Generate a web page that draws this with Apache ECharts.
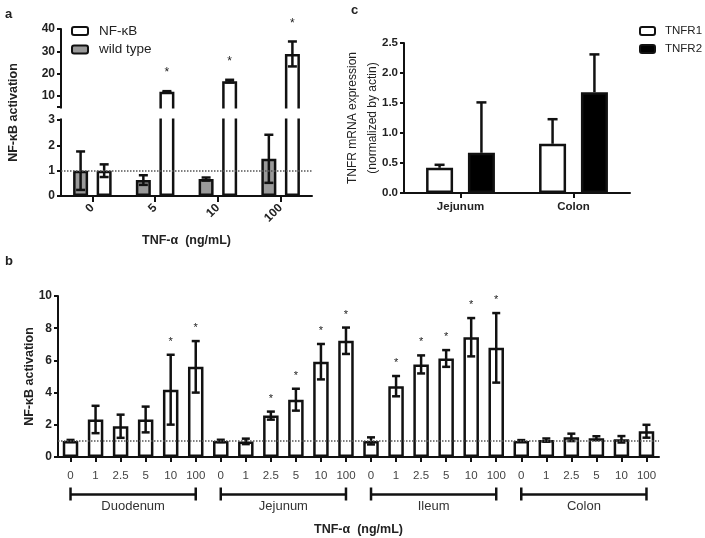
<!DOCTYPE html>
<html><head><meta charset="utf-8">
<script src="https://cdn.jsdelivr.net/npm/echarts@6/dist/echarts.min.js"></script>
<style>html,body{margin:0;padding:0;background:#fff}#c{width:705px;height:538px}</style>
</head><body><div id="c"></div>
<script>
// ---------- Panel a ----------
const aDoses = ['0', '5', '10', '100'];
const aNFkB = [1.0, 11.8, 16.6, 28.8];
const aNFkBErr = [0.25, 0.3, 0.6, 5.6];
const aWildType = [1.0, 0.63, 0.67, 1.47];
const aWildTypeErr = [0.76, 0.19, 0.06, 0.95];
const aStars = [false, true, true, true];
const aTopTicks = [5, 10, 20, 30, 40];
const aTopLabels = [10, 20, 30, 40];
const aBottomTicks = [0, 1, 2, 3];
// ---------- Panel b ----------
const bDoses = ['0', '1', '2.5', '5', '10', '100'];
const bTissues = ['Duodenum', 'Jejunum', 'Ileum', 'Colon'];
const bDuodenum = [1.0, 2.33, 1.91, 2.33, 4.18, 5.6];
const bDuodenumErr = [0.06, 0.85, 0.72, 0.8, 2.17, 1.6];
const bJejunum = [1.0, 0.97, 2.57, 3.56, 5.92, 7.22];
const bJejunumErr = [0.07, 0.17, 0.25, 0.68, 1.1, 0.82];
const bIleum = [1.0, 4.4, 5.75, 6.12, 7.44, 6.78];
const bIleumErr = [0.22, 0.63, 0.56, 0.52, 1.19, 2.16];
const bColon = [1.0, 1.05, 1.22, 1.17, 1.1, 1.6];
const bColonErr = [0.05, 0.1, 0.23, 0.12, 0.2, 0.4];
const bDuodenumStars = [0, 0, 0, 0, 1, 1];
const bJejunumStars = [0, 0, 1, 1, 1, 1];
const bIleumStars = [0, 1, 1, 1, 1, 1];
const bColonStars = [0, 0, 0, 0, 0, 0];
// ---------- Panel c ----------
const cTissues = ['Jejunum', 'Colon'];
const cTNFR1 = [0.42, 0.82];
const cTNFR1Err = [0.05, 0.41];
const cTNFR2 = [0.67, 1.68];
const cTNFR2Err = [0.84, 0.63];

// ---------- build ----------
const FONT = 'Liberation Sans, Arial, sans-serif';
const INK = '#111';
const bValues = [].concat(bDuodenum, bJejunum, bIleum, bColon);
const bErrs = [].concat(bDuodenumErr, bJejunumErr, bIleumErr, bColonErr);
const bStarFlags = [].concat(bDuodenumStars, bJejunumStars, bIleumStars, bColonStars);
const bLabels = [].concat(...bTissues.map(() => bDoses));

function errData(vals, errs) { return vals.map((v, i) => [i, v, errs[i]]); }
function starData(vals, errs, flags) {
  const out = [];
  vals.forEach((v, i) => { if (flags[i]) out.push([i, v + errs[i]]); });
  return out;
}
function errRenderer(offset, capHalf, oneSided, lw) {
  return function (params, api) {
    const i = api.value(0), v = api.value(1), e = api.value(2);
    const top = api.coord([i, v + e]);
    const bot = api.coord([i, oneSided ? v : v - e]);
    const x = top[0] + offset;
    const style = { stroke: INK, lineWidth: lw, fill: null };
    const ch = [
      { type: 'line', shape: { x1: x, y1: top[1], x2: x, y2: bot[1] }, style },
      { type: 'line', shape: { x1: x - capHalf, y1: top[1], x2: x + capHalf, y2: top[1] }, style }
    ];
    if (!oneSided) ch.push({ type: 'line', shape: { x1: x - capHalf, y1: bot[1], x2: x + capHalf, y2: bot[1] }, style });
    return { type: 'group', children: ch };
  };
}
function starRenderer(offset, gap, size) {
  return function (params, api) {
    const p = api.coord([api.value(0), api.value(1)]);
    return { type: 'text', style: { text: '*', x: p[0] + offset, y: p[1] - gap, align: 'center', verticalAlign: 'middle', font: size + 'px ' + FONT, fill: '#222' } };
  };
}

const A_BW = 15, A_GAP = 0.57, A_OFF = (A_BW + A_BW * A_GAP) / 2;
const C_BW = 27, C_GAP = 0.55, C_OFF = (C_BW + C_BW * C_GAP) / 2;
const B_BW = 15.5;

const axisLineStyle = { show: true, lineStyle: { color: INK, width: 2 } };
const yTick = { show: true, length: 4, lineStyle: { color: INK, width: 2 } };
const boldLbl = { color: '#222', fontWeight: 'bold', fontSize: 12, fontFamily: FONT };

const barStyle = (fill) => ({ color: fill, borderColor: INK, borderWidth: 2.5 });

const option = {
  animation: false,
  textStyle: { fontFamily: FONT },
  grid: [
    { left: 61, top: 29, width: 251, height: 86 },
    { left: 61, top: 113, width: 251, height: 83 },
    { left: 404, top: 43, width: 226, height: 150 },
    { left: 58, top: 296, width: 601, height: 161 }
  ],
  legend: [
    { data: ['NF-κB', 'wild type'], orient: 'vertical', left: 71, top: 24, padding: 0, itemWidth: 16, itemHeight: 8, itemGap: 4.5,
      itemStyle: { borderWidth: 2 }, textStyle: { fontSize: 13.5, color: '#222', padding: [0, 0, 0, 6] }, selectedMode: false },
    { data: ['TNFR1', 'TNFR2'], orient: 'vertical', left: 639, top: 25, padding: 0, itemWidth: 15, itemHeight: 8, itemGap: 6,
      itemStyle: { borderWidth: 2 }, textStyle: { fontSize: 11.5, color: '#222', padding: [0, 0, 0, 5] }, selectedMode: false }
  ],
  xAxis: [
    { type: 'category', gridIndex: 0, data: aDoses, axisLine: { show: false }, axisTick: { show: false }, axisLabel: { show: false } },
    { type: 'category', gridIndex: 1, data: aDoses, axisLine: axisLineStyle,
      axisTick: { show: true, alignWithLabel: true, length: 6, lineStyle: { color: INK, width: 2 } },
      axisLabel: Object.assign({}, boldLbl, { rotate: 45, margin: 10, fontSize: 12 }),
      name: 'TNF-α  (ng/mL)', nameLocation: 'middle', nameGap: 38, nameMoveOverlap: false,
      nameTextStyle: { fontWeight: 'bold', fontSize: 12.5, color: '#222' } },
    { type: 'category', gridIndex: 2, data: cTissues, axisLine: axisLineStyle,
      axisTick: { show: true, alignWithLabel: true, length: 5, lineStyle: { color: INK, width: 2 } },
      axisLabel: Object.assign({}, boldLbl, { fontSize: 11.5, margin: 8 }) },
    { type: 'category', gridIndex: 3, data: bLabels, axisLine: axisLineStyle,
      axisTick: { show: true, alignWithLabel: true, length: 5, lineStyle: { color: INK, width: 2 } },
      axisLabel: { color: '#444', fontSize: 11.5, margin: 13, interval: 0 },
      name: 'TNF-α  (ng/mL)', nameLocation: 'middle', nameGap: 66, nameMoveOverlap: false,
      nameTextStyle: { fontWeight: 'bold', fontSize: 12.5, color: '#222' } }
  ],
  yAxis: [
    { type: 'value', gridIndex: 0, min: 1.4, max: 40, splitLine: { show: false }, axisLine: axisLineStyle,
      axisTick: Object.assign({}, yTick, { customValues: aTopTicks }),
      axisLabel: Object.assign({}, boldLbl, { customValues: aTopLabels, margin: 6 }) },
    { type: 'value', gridIndex: 1, min: 0, max: 3.28, splitLine: { show: false }, axisLine: axisLineStyle,
      axisTick: Object.assign({}, yTick, { customValues: aBottomTicks }),
      axisLabel: Object.assign({}, boldLbl, { customValues: aBottomTicks, margin: 6 }) },
    { type: 'value', gridIndex: 2, min: 0, max: 2.5, interval: 0.5, splitLine: { show: false }, axisLine: axisLineStyle,
      axisTick: yTick, axisLabel: Object.assign({}, boldLbl, { fontSize: 11.5, margin: 6, formatter: v => v.toFixed(1) }),
      name: 'TNFR mRNA expression\n(normalized by actin)', nameLocation: 'middle', nameGap: 21, nameMoveOverlap: false,
      nameTextStyle: { fontSize: 12, color: '#222', lineHeight: 20 } },
    { type: 'value', gridIndex: 3, min: 0, max: 10, interval: 2, splitLine: { show: false }, axisLine: axisLineStyle,
      axisTick: yTick, axisLabel: Object.assign({}, boldLbl, { margin: 6 }),
      name: 'NF-κB activation', nameLocation: 'middle', nameGap: 22, nameMoveOverlap: false,
      nameTextStyle: { fontWeight: 'bold', fontSize: 12.5, color: '#222' } }
  ],
  graphic: [
    // axis break gap in panel a
    { type: 'rect', z: 100, shape: { x: 58.5, y: 108.5, width: 270, height: 10 }, style: { fill: '#fff' }, silent: true },
    { type: 'text', left: 5, top: 8, style: { text: 'a', font: 'bold 13px ' + FONT, fill: '#222' } },
    { type: 'text', left: 5, top: 255, style: { text: 'b', font: 'bold 13px ' + FONT, fill: '#222' } },
    { type: 'text', left: 351, top: 4, style: { text: 'c', font: 'bold 13px ' + FONT, fill: '#222' } },
    { type: 'text', x: 13.5, y: 112.5, rotation: Math.PI / 2,
      style: { text: 'NF-κB activation', font: 'bold 12.5px ' + FONT, fill: '#222', align: 'center', verticalAlign: 'middle' } }
  ],
  series: [
    // panel a : reference line
    { type: 'line', xAxisIndex: 1, yAxisIndex: 1, data: [], z: 1, silent: true,
      markLine: { silent: true, symbol: 'none', label: { show: false }, lineStyle: { type: 'dotted', color: '#555', width: 1.5 }, data: [{ yAxis: 1 }] } },
    // panel a : top segment
    { name: 'wild type', type: 'bar', xAxisIndex: 0, yAxisIndex: 0, data: aWildType, barWidth: A_BW, barGap: (A_GAP * 100) + '%', itemStyle: barStyle('#9a9a9a'), z: 2 },
    { name: 'NF-κB', type: 'bar', xAxisIndex: 0, yAxisIndex: 0, data: aNFkB, barWidth: A_BW, barGap: (A_GAP * 100) + '%', itemStyle: barStyle('#fff'), z: 2 },
    // panel a : bottom segment
    { name: 'wild type', type: 'bar', xAxisIndex: 1, yAxisIndex: 1, data: aWildType, barWidth: A_BW, barGap: (A_GAP * 100) + '%', itemStyle: barStyle('#9a9a9a'), z: 2 },
    { name: 'NF-κB', type: 'bar', xAxisIndex: 1, yAxisIndex: 1, data: aNFkB, barWidth: A_BW, barGap: (A_GAP * 100) + '%', itemStyle: barStyle('#fff'), z: 2 },
    // panel a : error bars
    { type: 'custom', xAxisIndex: 0, yAxisIndex: 0, clip: true, z: 3, silent: true, encode: { x: 0, y: 1 },
      data: errData(aNFkB, aNFkBErr), renderItem: errRenderer(A_OFF, 4.5, false, 2.5) },
    { type: 'custom', xAxisIndex: 1, yAxisIndex: 1, clip: true, z: 3, silent: true, encode: { x: 0, y: 1 },
      data: errData(aNFkB, aNFkBErr), renderItem: errRenderer(A_OFF, 4.5, false, 2.5) },
    { type: 'custom', xAxisIndex: 1, yAxisIndex: 1, clip: true, z: 3, silent: true, encode: { x: 0, y: 1 },
      data: errData(aWildType, aWildTypeErr), renderItem: errRenderer(-A_OFF, 4.5, false, 2.5) },
    { type: 'custom', xAxisIndex: 0, yAxisIndex: 0, clip: false, z: 3, silent: true, encode: { x: 0, y: 1 },
      data: starData(aNFkB, aNFkBErr, aStars), renderItem: starRenderer(A_OFF, 18, 12) },

    // panel c
    { name: 'TNFR1', type: 'bar', xAxisIndex: 2, yAxisIndex: 2, data: cTNFR1, barWidth: C_BW, barGap: (C_GAP * 100) + '%', itemStyle: barStyle('#fff'), z: 2 },
    { name: 'TNFR2', type: 'bar', xAxisIndex: 2, yAxisIndex: 2, data: cTNFR2, barWidth: C_BW, barGap: (C_GAP * 100) + '%', itemStyle: barStyle('#000'), z: 2 },
    { type: 'custom', xAxisIndex: 2, yAxisIndex: 2, z: 3, silent: true, encode: { x: 0, y: 1 },
      data: errData(cTNFR1, cTNFR1Err), renderItem: errRenderer(-C_OFF, 5, true, 2.5) },
    { type: 'custom', xAxisIndex: 2, yAxisIndex: 2, z: 3, silent: true, encode: { x: 0, y: 1 },
      data: errData(cTNFR2, cTNFR2Err), renderItem: errRenderer(C_OFF, 5, true, 2.5) },

    // panel b
    { type: 'line', xAxisIndex: 3, yAxisIndex: 3, data: [], z: 1, silent: true,
      markLine: { silent: true, symbol: 'none', label: { show: false }, lineStyle: { type: 'dotted', color: '#555', width: 1.5 }, data: [{ yAxis: 1 }] } },
    { name: 'b', type: 'bar', xAxisIndex: 3, yAxisIndex: 3, data: bValues, barWidth: B_BW, itemStyle: barStyle('#fff'), z: 2 },
    { type: 'custom', xAxisIndex: 3, yAxisIndex: 3, z: 3, silent: true, encode: { x: 0, y: 1 },
      data: errData(bValues, bErrs), renderItem: errRenderer(0, 4, false, 2.5) },
    { type: 'custom', xAxisIndex: 3, yAxisIndex: 3, z: 3, silent: true, encode: { x: 0, y: 1 },
      data: starData(bValues, bErrs, bStarFlags), renderItem: starRenderer(0, 13, 11) },
    { type: 'custom', xAxisIndex: 3, yAxisIndex: 3, z: 3, silent: true, clip: false, encode: { x: 0, y: 1 },
      data: bTissues.map((t, g) => [g * bDoses.length, 0, g * bDoses.length + bDoses.length - 1]),
      renderItem: function (params, api) {
        const s = api.coord([api.value(0), 0]);
        const e = api.coord([api.value(2), 0]);
        const y = s[1] + 37.5;
        const st = { stroke: INK, lineWidth: 2.5, fill: null };
        return { type: 'group', children: [
          { type: 'line', shape: { x1: s[0], y1: y, x2: e[0], y2: y }, style: st },
          { type: 'line', shape: { x1: s[0], y1: y - 7, x2: s[0], y2: y + 6 }, style: st },
          { type: 'line', shape: { x1: e[0], y1: y - 7, x2: e[0], y2: y + 6 }, style: st },
          { type: 'text', style: { text: bTissues[params.dataIndex], x: (s[0] + e[0]) / 2, y: y + 12, align: 'center', verticalAlign: 'middle', font: '13px ' + FONT, fill: '#333' } }
        ] };
      } }
  ]
};
const chart = echarts.init(document.getElementById('c'), null, { renderer: 'canvas' });
chart.setOption(option);
</script></body></html>
